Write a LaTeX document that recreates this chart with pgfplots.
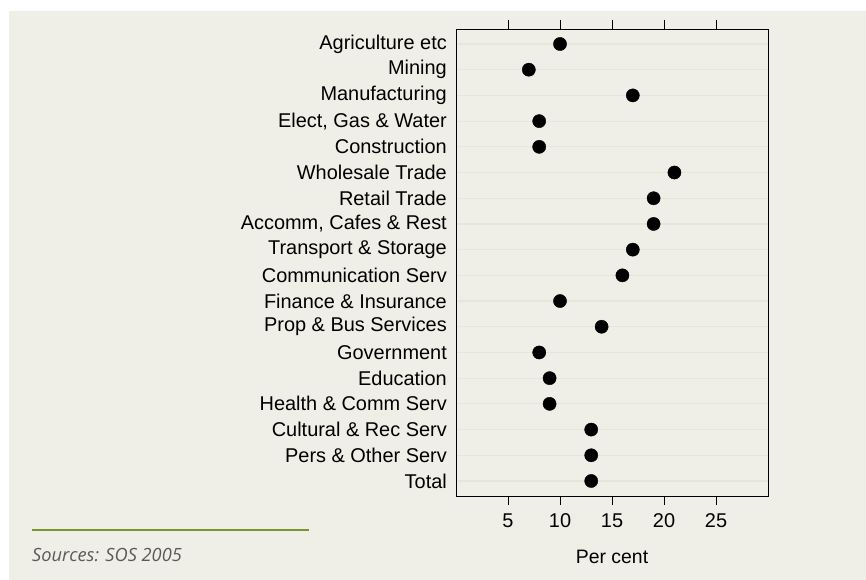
\documentclass[border=0pt]{standalone}
\usepackage{fontspec}
\setmainfont{Liberation Sans}
\newfontfamily\opensans{Open Sans}
\usepackage{pgfplots}
\pgfplotsset{compat=1.18}
\definecolor{bg}{RGB}{239,239,231}
\definecolor{gridc}{RGB}{230,230,222}
\definecolor{srcline}{RGB}{122,150,40}
\definecolor{srctext}{RGB}{90,90,90}
\begin{document}
\begin{tikzpicture}[x=1bp,y=1bp]
\useasboundingbox (0,0) rectangle (866,580);
\fill[white] (0,0) rectangle (866,580);
\fill[bg] (9,0) rectangle (866,569);
\draw[srcline, line width=1.5bp] (32,50) -- (309,50);
\node[anchor=base west, inner sep=0pt, font=\opensans\itshape\fontsize{18.3}{22}\selectfont, text=srctext] at (32,18) {Sources: SOS 2005};
\begin{axis}[
  at={(456bp,84bp)}, anchor=south west,
  scale only axis, width=312bp, height=467bp,
  xmin=0, xmax=30, ymin=0.416, ymax=18.584,
  xtick={5,10,15,20,25},
  ytick={1,...,18},
  yticklabels={Total,Pers \& Other Serv,Cultural \& Rec Serv,Health \& Comm Serv,Education,Government,Prop \& Bus Services,Finance \& Insurance,Communication Serv,Transport \& Storage,{Accomm, Cafes \& Rest},Retail Trade,Wholesale Trade,Construction,{Elect, Gas \& Water},Manufacturing,Mining,Agriculture etc},
  tick align=outside,
  xtick pos=both,
  major tick length=9bp,
  ytick style={draw=none},
  xtick style={black, line width=0.8bp},
  axis line style={black, line width=0.8bp},
  ymajorgrids,
  major grid style={color=gridc, line width=1.2bp},
  tick label style={font=\fontsize{20}{24}\selectfont},
  yticklabel style={inner sep=0pt},
  xticklabel style={yshift=-5bp},
  /pgf/number format/assume math mode=true,
  xlabel={Per cent},
  xlabel style={font=\fontsize{19.5}{23}\selectfont, yshift=-16bp},
  axis background/.style={fill=bg},
]
\addplot[only marks, mark=*, mark size=6.6bp, black] coordinates {
(13,1) (13,2) (13,3) (9,4) (9,5) (8,6) (14,7) (10,8) (16,9) (17,10) (19,11) (19,12) (21,13) (8,14) (8,15) (17,16) (7,17) (10,18)
};
\end{axis}
\end{tikzpicture}
\end{document}
